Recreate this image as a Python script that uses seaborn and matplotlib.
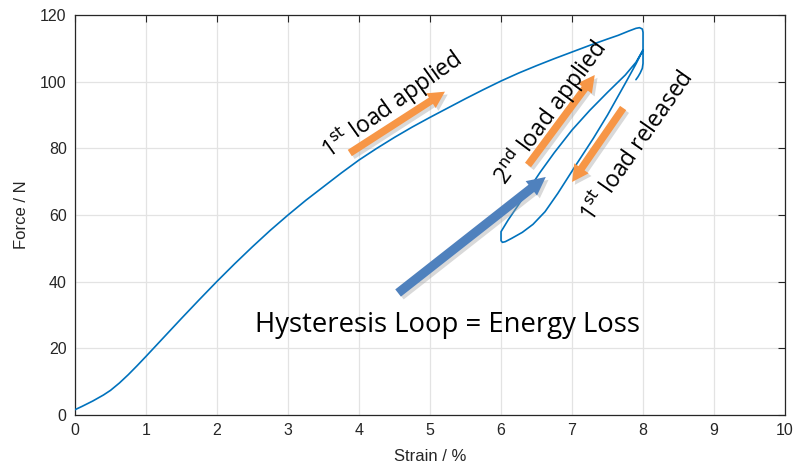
import numpy as np
import pandas as pd
import matplotlib
matplotlib.use("Agg")
import matplotlib.pyplot as plt
import matplotlib.patheffects as pe
import seaborn as sns

# First loading branch (strain %, force N)
load1_strain = [0.0, 0.1, 0.25, 0.4, 0.5, 0.625, 0.75, 0.875, 1.0, 1.25, 1.5, 1.75, 2.0,
                2.25, 2.5, 2.75, 3.0, 3.25, 3.5, 3.75, 4.0, 4.25, 4.5, 4.75, 5.0, 5.25,
                5.5, 5.75, 6.0, 6.25, 6.5, 6.75, 7.0, 7.25, 7.5, 7.65, 7.8, 7.9, 7.95,
                7.99, 8.0, 8.0]
load1_force = [1.6, 2.6, 4.2, 6.0, 7.4, 9.6, 12.1, 14.8, 17.6, 23.3, 29.0, 34.6, 40.1,
               45.4, 50.5, 55.4, 60.0, 64.4, 68.5, 72.6, 76.5, 80.0, 83.3, 86.4, 89.3, 92.1,
               94.9, 97.6, 100.2, 102.6, 104.8, 106.9, 108.9, 110.9, 112.8, 113.9, 115.2, 116.0,
               116.2, 115.8, 114.8, 109.5]
# Release of the first load
unload_strain = [7.9, 7.75, 7.5, 7.3, 7.04, 6.8, 6.62, 6.45, 6.3, 6.15, 6.06, 6.02, 6.0]
unload_force = [105.3, 99.5, 90.0, 83.0, 74.5, 66.5, 61.0, 57.2, 54.8, 53.0, 52.0, 51.8, 52.3]
# Second loading branch
reload_strain = [6.0, 6.0, 6.1, 6.25, 6.4, 6.55, 6.75, 7.0, 7.25, 7.5, 7.75, 7.9, 8.0]
reload_force = [53.5, 55.0, 58.5, 63.2, 68.0, 72.8, 78.7, 85.5, 91.4, 96.8, 102.0, 105.8, 109.5]
# Relaxation tail at 8 %
tail_strain = [8.0, 8.0, 7.99, 7.96, 7.93, 7.9]
tail_force = [109.5, 105.5, 104.0, 102.6, 101.5, 100.6]

xticks = list(range(0, 11))
yticks = list(range(0, 121, 20))

strain = load1_strain + unload_strain + reload_strain + tail_strain
force = load1_force + unload_force + reload_force + tail_force
df = pd.DataFrame({"Strain": strain, "Force": force})

sns.set_theme(style="white")
plt.rcParams["font.family"] = ["Liberation Sans", "DejaVu Sans"]

fig = plt.figure(figsize=(7.94, 4.75), dpi=100)
ax = fig.add_axes([0.0945, 0.1263, 0.8942, 0.8421])

sns.lineplot(data=df, x="Strain", y="Force", sort=False, estimator=None,
             color="#0072BD", linewidth=1.2, ax=ax, zorder=3)

ax.set_xlim(0, 10)
ax.set_ylim(0, 120)
ax.set_xticks(xticks)
ax.set_yticks(yticks)
ax.grid(True, color="#e3e3e3", linewidth=0.9)
ax.set_axisbelow(True)
for s in ax.spines.values():
    s.set_color("#262626")
    s.set_linewidth(0.9)
ax.tick_params(direction="in", top=True, right=True, length=5, width=0.8,
               colors="#262626", labelsize=11.5, pad=6)
ax.set_xlabel("Strain / %", fontsize=12, color="#262626", labelpad=8)
ax.set_ylabel("Force / N", fontsize=12, color="#262626", labelpad=8)

shadow = [pe.SimplePatchShadow(offset=(2, -2), shadow_rgbFace="#a0a0a0", alpha=0.4),
          pe.Normal()]


def arrow(x0, y0, x1, y1, color, w, hw, hl):
    ax.annotate("", xy=(x1, y1), xytext=(x0, y0),
                arrowprops=dict(arrowstyle=f"simple,head_length={hl},head_width={hw},tail_width={w}",
                                color=color, lw=0, shrinkA=0, shrinkB=0,
                                path_effects=shadow),
                zorder=4)


orange = "#F79646"
arrow(3.87, 78.6, 5.21, 97.0, orange, 0.45, 1.05, 1.0)
arrow(6.38, 75.0, 7.32, 102.0, orange, 0.45, 1.05, 1.0)
arrow(7.72, 92.1, 7.00, 69.9, orange, 0.45, 1.05, 1.0)
arrow(4.55, 36.6, 6.63, 71.4, "#4F81BD", 0.55, 1.1, 1.1)

tfont = ["Open Sans", "DejaVu Sans"]
label_kw = dict(fontsize=16.5, ha="center", va="center", family=tfont, color="black",
                zorder=5, rotation_mode="anchor")
ax.text(4.46, 93.3, r"1$^{\mathrm{st}}$ load applied", rotation=35.5, **label_kw)
ax.text(6.70, 90.6, r"2$^{\mathrm{nd}}$ load applied", rotation=53.5, **label_kw)
ax.text(7.92, 80.6, r"1$^{\mathrm{st}}$ load released", rotation=55, **label_kw)
ax.text(5.24, 27.0, "Hysteresis Loop = Energy Loss", fontsize=19.8,
        ha="center", va="center", family=tfont, color="black", zorder=5)

fig.savefig("out.png", dpi=100)
